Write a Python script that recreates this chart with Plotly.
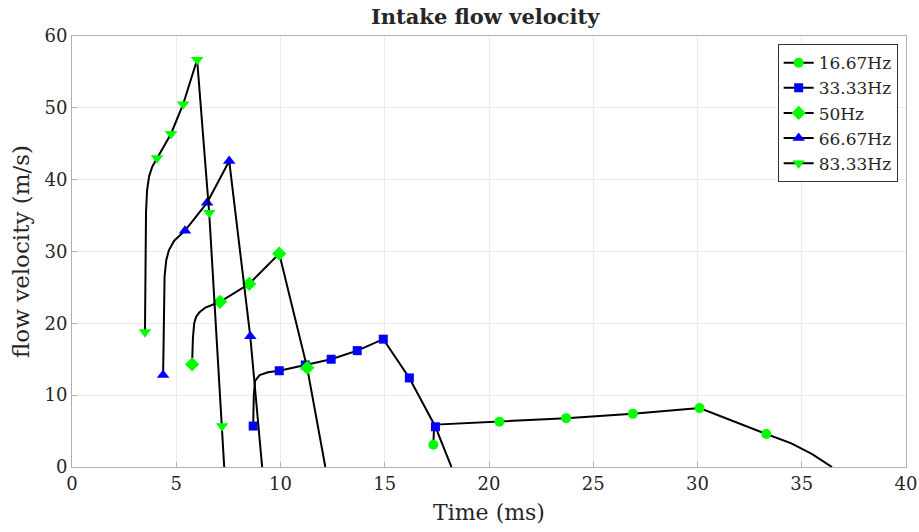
import plotly.graph_objects as go

# ---- data (time in ms, velocity in m/s) ----
series_names = ["16.67Hz", "33.33Hz", "50Hz", "66.67Hz", "83.33Hz"]

t_line_1667 = [17.33, 17.36, 17.45, 20.5, 23.7, 26.9, 30.1, 33.3, 34.5, 35.5, 36.45]
v_line_1667 = [3.1, 5.2, 5.9, 6.3, 6.8, 7.4, 8.2, 4.6, 3.3, 1.8, 0.0]
t_mark_1667 = [17.33, 20.5, 23.7, 26.9, 30.1, 33.3]
v_mark_1667 = [3.1, 6.3, 6.8, 7.4, 8.2, 4.6]

t_line_3333 = [8.69, 8.72, 8.78, 9.0, 9.4, 9.94, 11.19, 12.43, 13.68, 14.93, 16.18, 17.43, 18.2]
v_line_3333 = [5.7, 10.0, 12.0, 12.8, 13.2, 13.4, 14.2, 15.0, 16.2, 17.8, 12.4, 5.6, 0.0]
t_mark_3333 = [8.69, 9.94, 11.19, 12.43, 13.68, 14.93, 16.18, 17.43]
v_mark_3333 = [5.7, 13.4, 14.2, 15.0, 16.2, 17.8, 12.4, 5.6]

t_line_50 = [5.76, 5.8, 5.86, 5.95, 6.1, 6.4, 7.1, 8.5, 9.94, 11.28, 12.15]
v_line_50 = [14.3, 18.0, 20.0, 20.9, 21.5, 22.2, 23.0, 25.5, 29.7, 13.8, 0.0]
t_mark_50 = [5.76, 7.1, 8.5, 9.94, 11.28]
v_mark_50 = [14.3, 23.0, 25.5, 29.7, 13.8]

t_line_6667 = [4.37, 4.4, 4.44, 4.52, 4.65, 4.9, 5.42, 6.48, 7.54, 8.55, 9.12]
v_line_6667 = [12.8, 22.0, 26.5, 28.8, 30.2, 31.5, 32.9, 36.8, 42.6, 18.2, 0.0]
t_mark_6667 = [4.37, 5.42, 6.48, 7.54, 8.55]
v_mark_6667 = [12.8, 32.9, 36.8, 42.6, 18.2]

t_line_8333 = [3.5, 3.52, 3.55, 3.6, 3.7, 3.85, 4.08, 4.75, 5.33, 6.0, 6.58, 7.2, 7.3]
v_line_8333 = [18.8, 30.0, 35.5, 38.5, 40.5, 41.8, 43.0, 46.4, 50.5, 56.7, 35.4, 5.7, 0.0]
t_mark_8333 = [3.5, 4.08, 4.75, 5.33, 6.0, 6.58, 7.2]
v_mark_8333 = [18.8, 43.0, 46.4, 50.5, 56.7, 35.4, 5.7]

x_ticks = [0, 5, 10, 15, 20, 25, 30, 35, 40]
y_ticks = [0, 10, 20, 30, 40, 50, 60]

# ---- styles ----
GREEN = "#00ff00"
BLUE = "#0000ff"
styles = [
    (GREEN, "circle", 10),
    (BLUE, "square", 9),
    (GREEN, "diamond", 11),
    (BLUE, "triangle-up", 11),
    (GREEN, "triangle-down", 11),
]
lines = [(t_line_1667, v_line_1667), (t_line_3333, v_line_3333), (t_line_50, v_line_50),
         (t_line_6667, v_line_6667), (t_line_8333, v_line_8333)]
marks = [(t_mark_1667, v_mark_1667), (t_mark_3333, v_mark_3333), (t_mark_50, v_mark_50),
         (t_mark_6667, v_mark_6667), (t_mark_8333, v_mark_8333)]

FONT = "DejaVu Serif"
TXT = "#262626"
fig = go.Figure()
for name, (lt, lv), (mt, mv), (col, sym, sz) in zip(series_names, lines, marks, styles):
    fig.add_trace(go.Scatter(x=lt, y=lv, mode="lines", line=dict(color="black", width=2),
                             showlegend=False, legendgroup=name, hoverinfo="skip"))
    fig.add_trace(go.Scatter(x=mt, y=mv, mode="markers", showlegend=False, legendgroup=name,
                             marker=dict(color=col, symbol=sym, size=sz, line=dict(width=0)),
                             name=name))
    fig.add_trace(go.Scatter(x=[None], y=[None], mode="lines+markers", name=name, legendgroup=name,
                             line=dict(color="black", width=2),
                             marker=dict(color=col, symbol=sym, size=sz, line=dict(width=0))))

axis_common = dict(showgrid=True, gridcolor="#ebebeb", gridwidth=1, showline=True,
                   linecolor="#b0b0b0", linewidth=1, mirror=True, ticks="inside",
                   ticklen=5, tickcolor="#b0b0b0", zeroline=False, automargin=False,
                   tickfont=dict(family=FONT, size=18, color=TXT))

fig.update_layout(
    width=919, height=532,
    margin=dict(l=72, r=13, t=36, b=65),
    paper_bgcolor="white", plot_bgcolor="white",
    title=dict(text="<b>Intake flow velocity</b>", x=0.528, xanchor="center", y=0.968, yanchor="middle",
               font=dict(family=FONT, size=21, color=TXT)),
    xaxis=dict(range=[0, 40], tickvals=x_ticks, title=dict(text="Time (ms)", standoff=12,
               font=dict(family=FONT, size=22, color=TXT)), **axis_common),
    yaxis=dict(range=[0, 60], tickvals=y_ticks, title=dict(text="flow velocity (m/s)", standoff=8,
               font=dict(family=FONT, size=23, color=TXT)), **axis_common),
    legend=dict(x=0.990, y=0.981, xanchor="right", yanchor="top", bgcolor="white",
                bordercolor="#333333", borderwidth=1, tracegroupgap=0, itemwidth=30,
                font=dict(family=FONT, size=17, color=TXT)),
)

fig.write_html("out.html")
